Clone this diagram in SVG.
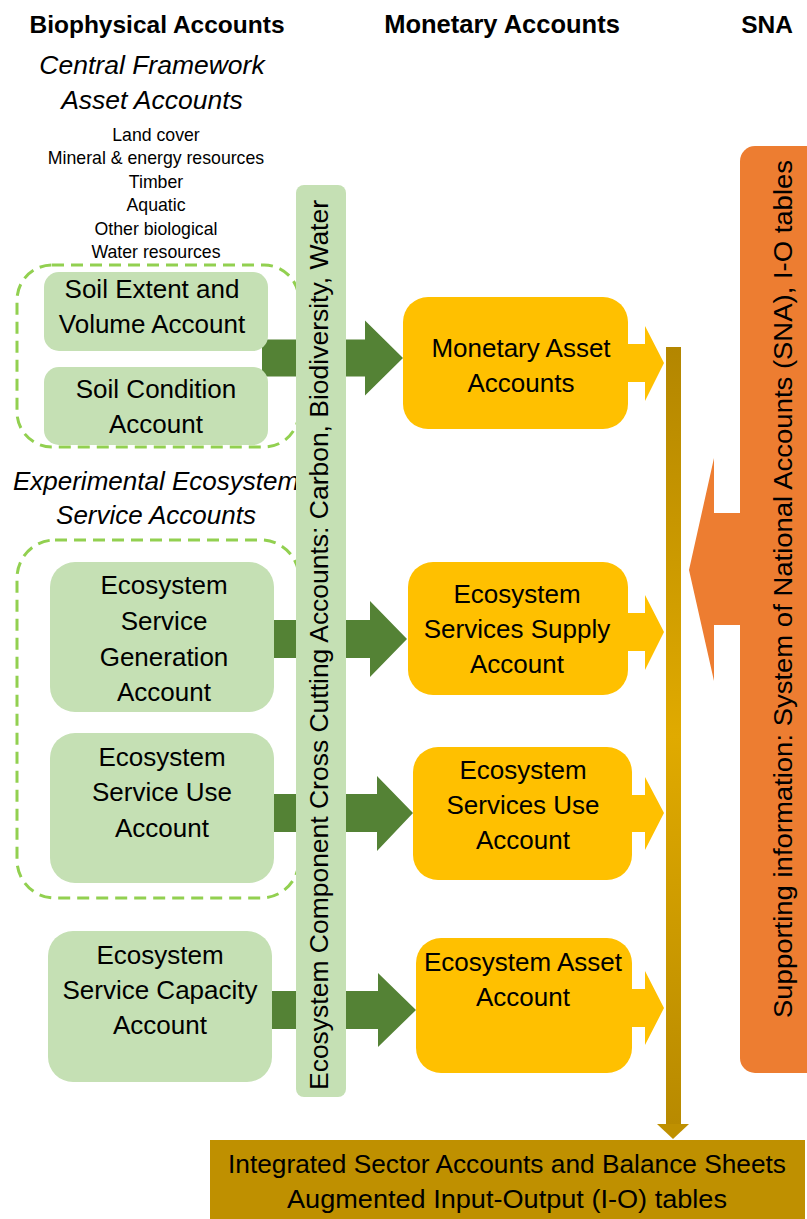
<svg xmlns="http://www.w3.org/2000/svg" width="807" height="1219" viewBox="0 0 807 1219">
<style>
text{font-family:"Liberation Sans",Arial,sans-serif;fill:#000;text-anchor:middle}
.hd{font-size:24.5px;font-weight:bold}
.it{font-size:26.5px;font-style:italic}
.sm{font-size:17.7px}
.bx{font-size:26px}
.lg{fill:#C5E0B4}
.yl{fill:#FFC000}
.ga{fill:#548235}
.dash{fill:none;stroke:#92D050;stroke-width:3;stroke-dasharray:12 7}
</style>
<defs>
<linearGradient id="goldg" x1="0" y1="0" x2="0" y2="1">
<stop offset="0" stop-color="#B38600"/>
<stop offset="0.5" stop-color="#E0AA00"/>
<stop offset="1" stop-color="#B88A00"/>
</linearGradient>
</defs>
<rect width="807" height="1219" fill="#fff"/>

<g id="headers">
<text class="hd" x="157" y="33">Biophysical Accounts</text>
<text class="hd" x="502" y="33" style="font-size:25.5px">Monetary Accounts</text>
<text class="hd" x="767" y="33">SNA</text>
</g>

<g id="central-framework">
<text class="it" x="152" y="74">Central Framework</text>
<text class="it" x="152" y="109">Asset Accounts</text>
<text class="sm" x="156" y="141">Land cover</text>
<text class="sm" x="156" y="164">Mineral &amp; energy resources</text>
<text class="sm" x="156" y="188">Timber</text>
<text class="sm" x="156" y="211">Aquatic</text>
<text class="sm" x="156" y="235">Other biological</text>
<text class="sm" x="156" y="258">Water resources</text>
</g>

<g id="experimental-label">
<text class="it" x="156" y="490" style="font-size:26px">Experimental Ecosystem</text>
<text class="it" x="156" y="524" style="font-size:26px">Service Accounts</text>
</g>

<g id="group-soil"><rect class="dash" x="17" y="265" width="282" height="182" rx="35"/></g>
<g id="group-ecosystem"><rect class="dash" x="17" y="540" width="282" height="358" rx="38"/></g>

<g id="connectors">
<polygon class="ga" points="262,339.5 365,339.5 365,320.5 403,358 365,395.5 365,376.5 262,376.5"/>
<polygon class="ga" points="268,620 370,620 370,601 407,639 370,677 370,658 268,658"/>
<polygon class="ga" points="268,794 377,794 377,776 413,813 377,851 377,832 268,832"/>
<polygon class="ga" points="266,991 378,991 378,973 416,1010 378,1047 378,1029 266,1029"/>
<polygon class="yl" points="620,344 645,344 645,326 664,363 645,401 645,382 620,382"/>
<polygon class="yl" points="620,613 645,613 645,595 664,632 645,670 645,651 620,651"/>
<polygon class="yl" points="620,795 645,795 645,777 664,813 645,850 645,832 620,832"/>
<polygon class="yl" points="620,989 645,989 645,971 664,1008 645,1045 645,1027 620,1027"/>
<rect x="666" y="347" width="15" height="778" fill="url(#goldg)"/>
<polygon points="657,1124 689,1124 673,1139" fill="#BF9000"/>
<polygon points="745,513 714,513 714,458 689,570 714,681 714,625 745,625" fill="#ED7D31"/>
</g>

<g id="soil-extent">
<rect class="lg" x="44" y="272" width="224" height="79" rx="15"/>
<text class="bx" x="152" y="298">Soil Extent and</text>
<text class="bx" x="152" y="333">Volume Account</text>
</g>
<g id="soil-condition">
<rect class="lg" x="44" y="367" width="224" height="78" rx="15"/>
<text class="bx" x="156" y="398">Soil Condition</text>
<text class="bx" x="156" y="433">Account</text>
</g>
<g id="es-generation">
<rect class="lg" x="50" y="562" width="224" height="150" rx="25"/>
<text class="bx" x="164" y="594">Ecosystem</text>
<text class="bx" x="164" y="630">Service</text>
<text class="bx" x="164" y="666">Generation</text>
<text class="bx" x="164" y="701">Account</text>
</g>
<g id="es-use">
<rect class="lg" x="50" y="733" width="224" height="150" rx="25"/>
<text class="bx" x="162" y="766">Ecosystem</text>
<text class="bx" x="162" y="801">Service Use</text>
<text class="bx" x="162" y="837">Account</text>
</g>
<g id="es-capacity">
<rect class="lg" x="48" y="931" width="224" height="151" rx="25"/>
<text class="bx" x="160" y="964">Ecosystem</text>
<text class="bx" x="160" y="999">Service Capacity</text>
<text class="bx" x="160" y="1034">Account</text>
</g>

<g id="cross-cutting">
<rect class="lg" x="296" y="185" width="50" height="912" rx="8"/>
<text x="0" y="0" font-size="26" textLength="890" lengthAdjust="spacingAndGlyphs" transform="translate(328,645) rotate(-90)">Ecosystem Component Cross Cutting Accounts: Carbon, Biodiversity, Water</text>
</g>

<g id="monetary-asset">
<rect class="yl" x="403" y="297" width="225" height="132" rx="25"/>
<text class="bx" x="521" y="357">Monetary Asset</text>
<text class="bx" x="521" y="392">Accounts</text>
</g>
<g id="es-supply">
<rect class="yl" x="408" y="562" width="220" height="133" rx="25"/>
<text class="bx" x="517" y="603">Ecosystem</text>
<text class="bx" x="517" y="638">Services Supply</text>
<text class="bx" x="517" y="673">Account</text>
</g>
<g id="es-use-monetary">
<rect class="yl" x="413" y="747" width="219" height="133" rx="25"/>
<text class="bx" x="523" y="779">Ecosystem</text>
<text class="bx" x="523" y="814">Services Use</text>
<text class="bx" x="523" y="849">Account</text>
</g>
<g id="ecosystem-asset">
<rect class="yl" x="416" y="938" width="216" height="135" rx="25"/>
<text class="bx" x="523" y="971">Ecosystem Asset</text>
<text class="bx" x="523" y="1006">Account</text>
</g>

<g id="sna">
<rect x="740" y="146" width="90" height="927" rx="15" fill="#ED7D31"/>
<text x="0" y="0" font-size="26" textLength="858" lengthAdjust="spacingAndGlyphs" transform="translate(792,589) rotate(-90)">Supporting information: System of National Accounts (SNA), I-O tables</text>
</g>

<g id="integrated">
<rect x="210" y="1140" width="595" height="79" fill="#BF9000"/>
<text class="bx" x="507" y="1173" textLength="558" lengthAdjust="spacingAndGlyphs">Integrated Sector Accounts and Balance Sheets</text>
<text class="bx" x="507" y="1208" textLength="440" lengthAdjust="spacingAndGlyphs">Augmented Input-Output (I-O) tables</text>
</g>
</svg>
